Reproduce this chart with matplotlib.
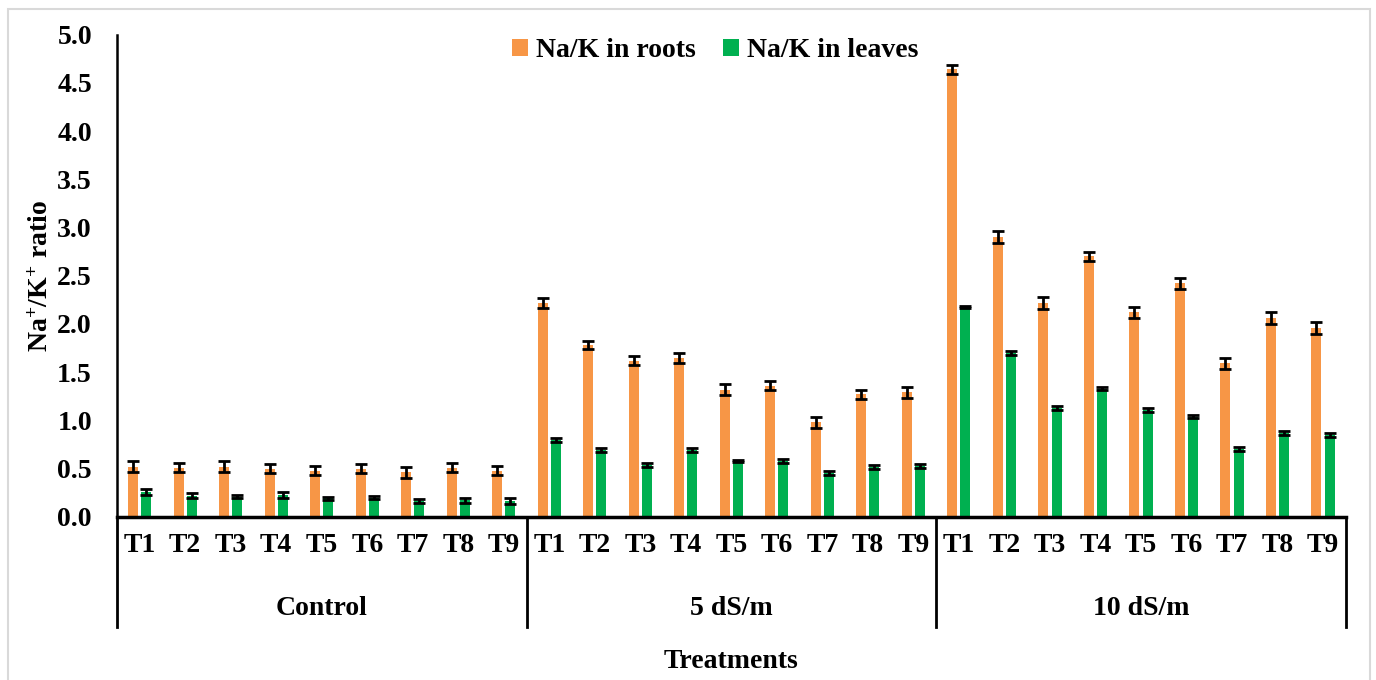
import numpy as np
import matplotlib.pyplot as plt
from matplotlib.lines import Line2D
from matplotlib.patches import Rectangle

plt.rcParams['font.family'] = 'Liberation Serif'
plt.rcParams['font.weight'] = 'bold'
plt.rcParams['mathtext.fontset'] = 'custom'
plt.rcParams['mathtext.rm'] = 'Liberation Serif:bold'
plt.rcParams['mathtext.bf'] = 'Liberation Serif:bold'
plt.rcParams['mathtext.default'] = 'bf'

# Data
groups = ['Control', '5 dS/m', '10 dS/m']
treatments = ['T1', 'T2', 'T3', 'T4', 'T5', 'T6', 'T7', 'T8', 'T9']

roots = [0.52, 0.51, 0.52, 0.50, 0.48, 0.50, 0.46, 0.51, 0.48,
         2.22, 1.78, 1.62, 1.65, 1.32, 1.36, 0.98, 1.27, 1.29,
         4.64, 2.90, 2.22, 2.70, 2.12, 2.42, 1.59, 2.06, 1.96]
roots_err = [0.06, 0.05, 0.06, 0.05, 0.05, 0.05, 0.06, 0.05, 0.05,
             0.05, 0.04, 0.05, 0.05, 0.06, 0.05, 0.06, 0.05, 0.06,
             0.05, 0.06, 0.06, 0.05, 0.06, 0.06, 0.06, 0.06, 0.06]
leaves = [0.26, 0.22, 0.21, 0.23, 0.19, 0.20, 0.16, 0.17, 0.16,
          0.80, 0.69, 0.54, 0.69, 0.58, 0.58, 0.45, 0.52, 0.53,
          2.18, 1.70, 1.13, 1.33, 1.11, 1.04, 0.70, 0.87, 0.85]
leaves_err = [0.03, 0.03, 0.02, 0.03, 0.02, 0.02, 0.02, 0.03, 0.03,
              0.02, 0.02, 0.02, 0.02, 0.01, 0.02, 0.02, 0.02, 0.02,
              0.01, 0.02, 0.02, 0.02, 0.02, 0.02, 0.02, 0.02, 0.02]

x = np.arange(len(roots))
w = 0.22
fs = 20

fig = plt.figure(figsize=(13.76, 6.8), dpi=100)
ax = fig.add_axes([0.085, 0.24, 0.893, 0.709])

ax.bar(x - 0.145, roots, w, color='#F79646', label='Na/K in roots',
       yerr=roots_err, capsize=4.5, error_kw=dict(elinewidth=2, capthick=2, ecolor='black'))
ax.bar(x + 0.145, leaves, w, color='#00B050', label='Na/K in leaves',
       yerr=leaves_err, capsize=4.5, error_kw=dict(elinewidth=2, capthick=2, ecolor='black'))

ax.set_xlim(-0.5, len(x) - 0.5)
ax.set_ylim(0, 5)
ax.set_yticks(np.arange(0, 5.01, 0.5))
ax.set_yticklabels([f'{v:.1f}' for v in np.arange(0, 5.01, 0.5)], fontsize=fs)
ax.set_xticks(x)
ax.set_xticklabels(treatments * 3, fontsize=fs)
ax.tick_params(axis='both', length=0)
ax.tick_params(axis='x', pad=12)
ax.tick_params(axis='y', pad=18)

for s in ['top', 'right']:
    ax.spines[s].set_visible(False)
ax.spines['left'].set_linewidth(1.8)
ax.spines['bottom'].set_linewidth(2.5)

# group separators and labels below the axis
for k in range(len(groups) + 1):
    xs = k * 9 - 0.5
    ax.add_line(Line2D([xs, xs], [0, -0.228], transform=ax.get_xaxis_transform(),
                       color='black', lw=2, clip_on=False))
for k, g in enumerate(groups):
    ax.text(k * 9 + 4, -0.19, g, transform=ax.get_xaxis_transform(),
            ha='center', va='center', fontsize=fs, fontweight='bold')

ax.text(0.5, -0.3, 'Treatments', transform=ax.transAxes, ha='center', va='center',
        fontsize=fs, fontweight='bold')
ax.set_ylabel(r'Na$^{+}$/K$^{+}$ ratio', fontsize=fs, fontweight='bold', labelpad=2)

ax.legend(loc='upper center', bbox_to_anchor=(0.487, 1.045), ncol=2, frameon=False,
          fontsize=fs, handlelength=0.55, handleheight=0.55, handletextpad=0.3,
          columnspacing=1.0)

fig.patches.append(Rectangle((0.006, -0.01), 0.99, 0.997, transform=fig.transFigure,
                             fill=False, edgecolor='#d9d9d9', lw=1.5))

fig.savefig('out.png', dpi=100)
